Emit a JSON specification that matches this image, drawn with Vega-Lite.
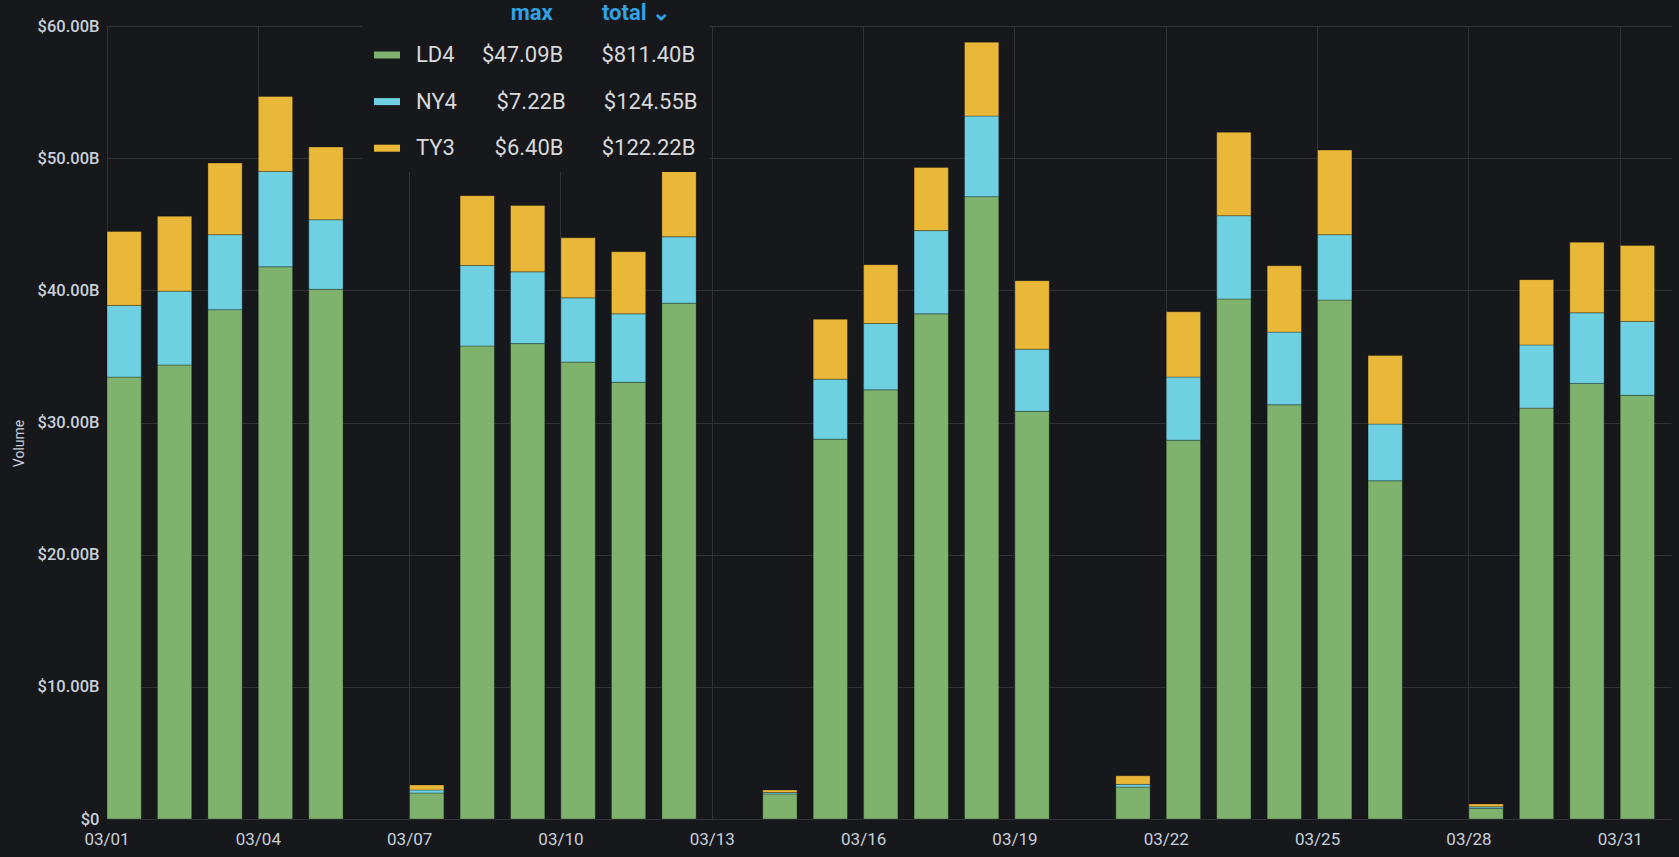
{
  "$schema": "https://vega.github.io/schema/vega-lite/v6.json",
  "width": 1564,
  "height": 793,
  "autosize": {"type": "none"},
  "padding": {"left": 107, "top": 26, "right": 8, "bottom": 38},
  "background": "#17181c",
  "config": {"view": {"stroke": null}, "font": "Roboto"},
  "data": {"values": [
    {"day": "03/01", "site": "LD4", "volume": 33.44}, {"day": "03/01", "site": "NY4", "volume": 5.42}, {"day": "03/01", "site": "TY3", "volume": 5.60},
    {"day": "03/02", "site": "LD4", "volume": 34.35}, {"day": "03/02", "site": "NY4", "volume": 5.59}, {"day": "03/02", "site": "TY3", "volume": 5.67},
    {"day": "03/03", "site": "LD4", "volume": 38.54}, {"day": "03/03", "site": "NY4", "volume": 5.67}, {"day": "03/03", "site": "TY3", "volume": 5.43},
    {"day": "03/04", "site": "LD4", "volume": 41.78}, {"day": "03/04", "site": "NY4", "volume": 7.22}, {"day": "03/04", "site": "TY3", "volume": 5.67},
    {"day": "03/05", "site": "LD4", "volume": 40.08}, {"day": "03/05", "site": "NY4", "volume": 5.26}, {"day": "03/05", "site": "TY3", "volume": 5.51},
    {"day": "03/07", "site": "LD4", "volume": 1.97}, {"day": "03/07", "site": "NY4", "volume": 0.23}, {"day": "03/07", "site": "TY3", "volume": 0.38},
    {"day": "03/08", "site": "LD4", "volume": 35.79}, {"day": "03/08", "site": "NY4", "volume": 6.09}, {"day": "03/08", "site": "TY3", "volume": 5.28},
    {"day": "03/09", "site": "LD4", "volume": 35.97}, {"day": "03/09", "site": "NY4", "volume": 5.43}, {"day": "03/09", "site": "TY3", "volume": 5.02},
    {"day": "03/10", "site": "LD4", "volume": 34.57}, {"day": "03/10", "site": "NY4", "volume": 4.86}, {"day": "03/10", "site": "TY3", "volume": 4.54},
    {"day": "03/11", "site": "LD4", "volume": 33.04}, {"day": "03/11", "site": "NY4", "volume": 5.18}, {"day": "03/11", "site": "TY3", "volume": 4.70},
    {"day": "03/12", "site": "LD4", "volume": 39.03}, {"day": "03/12", "site": "NY4", "volume": 5.02}, {"day": "03/12", "site": "TY3", "volume": 4.94},
    {"day": "03/14", "site": "LD4", "volume": 1.90}, {"day": "03/14", "site": "NY4", "volume": 0.10}, {"day": "03/14", "site": "TY3", "volume": 0.20},
    {"day": "03/15", "site": "LD4", "volume": 28.74}, {"day": "03/15", "site": "NY4", "volume": 4.54}, {"day": "03/15", "site": "TY3", "volume": 4.53},
    {"day": "03/16", "site": "LD4", "volume": 32.47}, {"day": "03/16", "site": "NY4", "volume": 5.02}, {"day": "03/16", "site": "TY3", "volume": 4.45},
    {"day": "03/17", "site": "LD4", "volume": 38.22}, {"day": "03/17", "site": "NY4", "volume": 6.30}, {"day": "03/17", "site": "TY3", "volume": 4.78},
    {"day": "03/18", "site": "LD4", "volume": 47.09}, {"day": "03/18", "site": "NY4", "volume": 6.10}, {"day": "03/18", "site": "TY3", "volume": 5.58},
    {"day": "03/19", "site": "LD4", "volume": 30.85}, {"day": "03/19", "site": "NY4", "volume": 4.70}, {"day": "03/19", "site": "TY3", "volume": 5.18},
    {"day": "03/21", "site": "LD4", "volume": 2.42}, {"day": "03/21", "site": "NY4", "volume": 0.20}, {"day": "03/21", "site": "TY3", "volume": 0.65},
    {"day": "03/22", "site": "LD4", "volume": 28.66}, {"day": "03/22", "site": "NY4", "volume": 4.78}, {"day": "03/22", "site": "TY3", "volume": 4.94},
    {"day": "03/23", "site": "LD4", "volume": 39.35}, {"day": "03/23", "site": "NY4", "volume": 6.30}, {"day": "03/23", "site": "TY3", "volume": 6.31},
    {"day": "03/24", "site": "LD4", "volume": 31.34}, {"day": "03/24", "site": "NY4", "volume": 5.50}, {"day": "03/24", "site": "TY3", "volume": 5.02},
    {"day": "03/25", "site": "LD4", "volume": 39.27}, {"day": "03/25", "site": "NY4", "volume": 4.94}, {"day": "03/25", "site": "TY3", "volume": 6.40},
    {"day": "03/26", "site": "LD4", "volume": 25.59}, {"day": "03/26", "site": "NY4", "volume": 4.29}, {"day": "03/26", "site": "TY3", "volume": 5.18},
    {"day": "03/28", "site": "LD4", "volume": 0.80}, {"day": "03/28", "site": "NY4", "volume": 0.12}, {"day": "03/28", "site": "TY3", "volume": 0.22},
    {"day": "03/29", "site": "LD4", "volume": 31.09}, {"day": "03/29", "site": "NY4", "volume": 4.78}, {"day": "03/29", "site": "TY3", "volume": 4.94},
    {"day": "03/30", "site": "LD4", "volume": 32.96}, {"day": "03/30", "site": "NY4", "volume": 5.34}, {"day": "03/30", "site": "TY3", "volume": 5.34},
    {"day": "03/31", "site": "LD4", "volume": 32.06}, {"day": "03/31", "site": "NY4", "volume": 5.59}, {"day": "03/31", "site": "TY3", "volume": 5.75}
  ]},
  "mark": {"type": "bar", "stroke": "#000000", "strokeOpacity": 0.28, "strokeWidth": 1},
  "encoding": {
    "x": {
      "field": "day",
      "type": "ordinal",
      "scale": {
        "domain": ["03/01","03/02","03/03","03/04","03/05","03/06","03/07","03/08","03/09","03/10","03/11","03/12","03/13","03/14","03/15","03/16","03/17","03/18","03/19","03/20","03/21","03/22","03/23","03/24","03/25","03/26","03/27","03/28","03/29","03/30","03/31"],
        "paddingInner": 0.32,
        "paddingOuter": 0.163,
        "align": 0
      },
      "axis": {
        "values": ["03/01","03/04","03/07","03/10","03/13","03/16","03/19","03/22","03/25","03/28","03/31"],
        "bandPosition": 0,
        "labelAngle": 0,
        "labelAlign": "center",
        "labelOffset": -17.15,
        "labelFlush": false,
        "labelBound": false,
        "title": null,
        "grid": true,
        "gridColor": "#303236",
        "gridWidth": 1,
        "domain": false,
        "ticks": false,
        "labelColor": "#c7d0d9",
        "labelFontSize": 17,
        "labelPadding": 12
      }
    },
    "y": {
      "field": "volume",
      "type": "quantitative",
      "stack": "zero",
      "scale": {"domain": [0, 60], "nice": false},
      "axis": {
        "values": [0, 10, 20, 30, 40, 50, 60],
        "labelExpr": "datum.value == 0 ? '$0' : '$' + format(datum.value, '.2f') + 'B'",
        "title": "Volume",
        "titleColor": "#c7d0d9",
        "titleFontSize": 14,
        "titleFontWeight": "normal",
        "titlePadding": 11,
        "titleY": 417,
        "labelColor": "#c7d0d9",
        "labelFontSize": 16.5,
        "labelFontWeight": 500,
        "labelPadding": 8,
        "ticks": false,
        "domain": false,
        "grid": true,
        "gridColor": "#303236"
      }
    },
    "color": {
      "field": "site",
      "type": "nominal",
      "scale": {"domain": ["LD4", "NY4", "TY3"], "range": ["#7EB26D", "#6ED0E0", "#EAB839"]},
      "legend": {
        "orient": "none",
        "legendX": 255,
        "legendY": -35,
        "padding": 12,
        "fillColor": "#17181c",
        "title": "max\u00a0\u00a0\u00a0\u00a0\u00a0\u00a0\u00a0\u00a0\u00a0total\u00a0\u2304\u00a0\u00a0\u2800",
        "titleColor": "#33a2e5",
        "titleFontSize": 22,
        "titleFontWeight": "bold",
        "titleAnchor": "end",
        "titlePadding": 17,
        "titleLimit": 600,
        "labelExpr": "datum.label == 'LD4' ? 'LD4\u00a0\u00a0\u00a0\u00a0\u00a0$47.09B\u00a0\u00a0\u00a0\u00a0\u00a0\u00a0\u00a0$811.40B' : datum.label == 'NY4' ? 'NY4\u00a0\u00a0\u00a0\u00a0\u00a0\u2007$7.22B\u00a0\u00a0\u00a0\u00a0\u00a0\u00a0\u00a0$124.55B' : 'TY3\u00a0\u00a0\u00a0\u00a0\u00a0\u2007$6.40B\u00a0\u00a0\u00a0\u00a0\u00a0\u00a0\u00a0$122.22B'",
        "labelFontSize": 22,
        "labelColor": "#d8d9da",
        "labelLimit": 600,
        "labelOffset": 16,
        "symbolType": "M-1,-0.27H1V0.27H-1Z",
        "symbolSize": 676,
        "symbolStrokeWidth": 0,
        "symbolOpacity": 1,
        "rowPadding": 22.6
      }
    },
    "order": {"field": "site", "sort": "ascending"}
  }
}
